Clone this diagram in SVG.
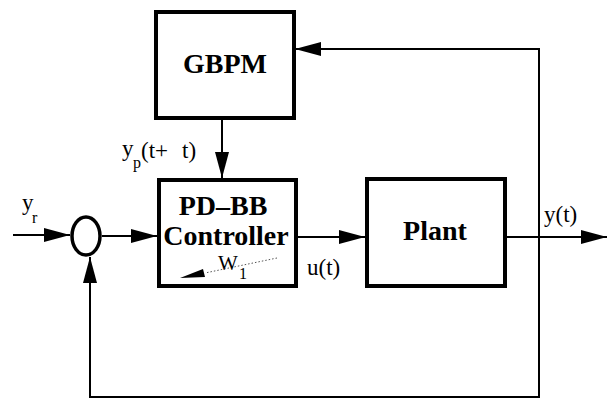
<svg xmlns="http://www.w3.org/2000/svg" width="613" height="401" viewBox="0 0 613 401">
<style>
.box{fill:#fff;stroke:#000;stroke-width:4}
.wire{fill:none;stroke:#000;stroke-width:2}
.bold{font-weight:bold;font-size:28px;fill:#000;text-anchor:middle}
.lbl{font-size:23px;fill:#000}
.sub{font-size:16px;fill:#000}
</style>
<defs>
<marker id="arr" markerUnits="userSpaceOnUse" markerWidth="28" markerHeight="14" refX="26" refY="7" orient="auto">
<path d="M0,0 L26,7 L0,14 Z" fill="#000"/>
</marker>
</defs>
<rect width="613" height="401" fill="#fff"/>
<g id="connectors">
<path class="wire" d="M13 235 H70" marker-end="url(#arr)"/>
<path class="wire" d="M102 236 H157" marker-end="url(#arr)"/>
<path class="wire" d="M222 120 V178" marker-end="url(#arr)"/>
<path class="wire" d="M298 237 H365" marker-end="url(#arr)"/>
<path class="wire" d="M507 237 H607" marker-end="url(#arr)"/>
<path class="wire" d="M539 237 V49 H295" marker-end="url(#arr)"/>
<path class="wire" d="M539 237 V397 H90 V257" marker-end="url(#arr)"/>
</g>
<g id="sum">
<ellipse cx="86" cy="236" rx="14" ry="19" fill="#fff" stroke="#000" stroke-width="3.5"/>
</g>
<g font-family="Liberation Serif, Times New Roman, Times, serif">
<g id="gbpm">
<rect class="box" x="156" y="12" width="138" height="106"/>
<text class="bold" x="225" y="73">GBPM</text>
</g>
<g id="controller">
<rect class="box" x="159" y="180" width="137" height="106"/>
<text class="bold" x="223" y="215">PD–BB</text>
<text class="bold" x="226" y="245">Controller</text>
<line x1="277" y1="258" x2="205" y2="273" stroke="#555" stroke-width="1" stroke-dasharray="1.5 2"/>
<polygon points="180,278 203,269 205,277" fill="#000"/>
<text class="lbl" x="218" y="270" style="font-size:21px">W</text>
<text class="sub" x="239" y="279">1</text>
</g>
<g id="plant">
<rect class="box" x="367" y="179" width="138" height="107"/>
<text class="bold" x="435" y="240">Plant</text>
</g>
<g id="labels">
<text class="lbl" x="22" y="210">y</text>
<text class="sub" x="32" y="223">r</text>
<text class="lbl" x="122" y="156">y</text>
<text class="sub" x="133" y="168">p</text>
<text class="lbl" x="141" y="158">(t+</text>
<text class="lbl" x="182" y="158">t)</text>
<text class="lbl" x="307" y="275">u(t)</text>
<text class="lbl" x="544" y="222">y(t)</text>
</g>
</g>
</svg>
